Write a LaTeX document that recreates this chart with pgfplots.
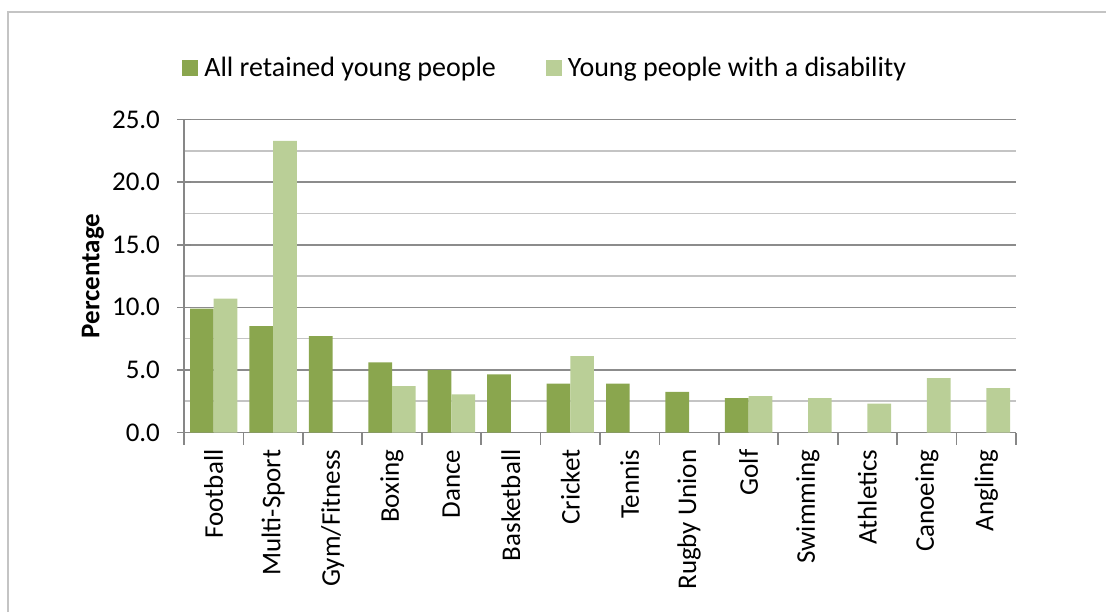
\documentclass[border=0pt]{standalone}
\usepackage{fontspec}
\setmainfont{Carlito}
\usepackage{pgfplots}
\pgfplotsset{compat=1.18}
\definecolor{darkg}{HTML}{8AA64E}
\definecolor{lightg}{HTML}{BACF97}
\definecolor{majgrid}{HTML}{8C8C8C}
\definecolor{mingrid}{HTML}{C4C4C4}
\definecolor{axgray}{HTML}{878787}
\begin{document}
\begin{tikzpicture}
\useasboundingbox (0,0) rectangle (553pt,306pt);
\draw[color=mingrid, line width=0.8pt] (4pt,0) -- (4pt,300pt) -- (553pt,300pt);
\begin{axis}[
  at={(92pt,89.75pt)}, anchor=south west,
  scale only axis, width=416pt, height=156.5pt,
  font=\fontsize{13.5}{16}\selectfont,
  ybar=0pt, bar width=11.85pt,
  xmin=-0.5, xmax=13.5, ymin=0, ymax=25,
  xtick={0,...,13},
  xticklabels={Football,Multi-Sport,Gym/Fitness,Boxing,Dance,Basketball,Cricket,Tennis,Rugby Union,Golf,Swimming,Athletics,Canoeing,Angling},
  xticklabel style={rotate=90, anchor=east, xshift=2pt},
  major x tick style={draw=none},
  minor xtick={-0.5,0.5,...,13.5},
  minor x tick style={color=axgray, line width=0.8pt},
  minor tick length=6pt,
  xtick align=outside,
  ytick={0,5,...,25},
  minor ytick={2.5,7.5,...,22.5},
  ytick align=center,
  major tick length=7pt,
  major y tick style={color=axgray, line width=0.8pt},
  minor y tick style={draw=none},
  ymajorgrids, yminorgrids,
  major grid style={color=majgrid, line width=0.8pt},
  minor grid style={color=mingrid, line width=0.8pt},
  axis x line*=bottom, axis y line*=left,
  axis line style={color=axgray, line width=0.8pt, -},
  y tick label style={/pgf/number format/fixed, /pgf/number format/fixed zerofill, /pgf/number format/precision=1, /pgf/number format/assume math mode=true, xshift=-5pt},
  ylabel={\bfseries Percentage},
  ylabel style={at={(axis description cs:-0.1094,0.5)}, anchor=center},
  legend style={at={(axis description cs:0.4366,1.1645)}, anchor=center, draw=none, fill=none,
    legend columns=2, font=\fontsize{14}{16}\selectfont,
    /tikz/every even column/.append style={column sep=22pt},
    nodes={inner xsep=3pt}},
  legend cell align=left,
  legend image code/.code={\fill[#1] (0pt,-4pt) rectangle (8pt,4pt);},
]
\addplot[fill=darkg, draw=none] coordinates {(0,9.9) (1,8.5) (2,7.7) (3,5.6) (4,5.0) (5,4.65) (6,3.9) (7,3.9) (8,3.25) (9,2.75)};
\addplot[fill=lightg, draw=none] coordinates {(0,10.7) (1,23.3) (3,3.7) (4,3.05) (6,6.1) (9,2.9) (10,2.75) (11,2.3) (12,4.35) (13,3.55)};
\legend{All retained young people, Young people with a disability}
\end{axis}
\end{tikzpicture}
\end{document}
